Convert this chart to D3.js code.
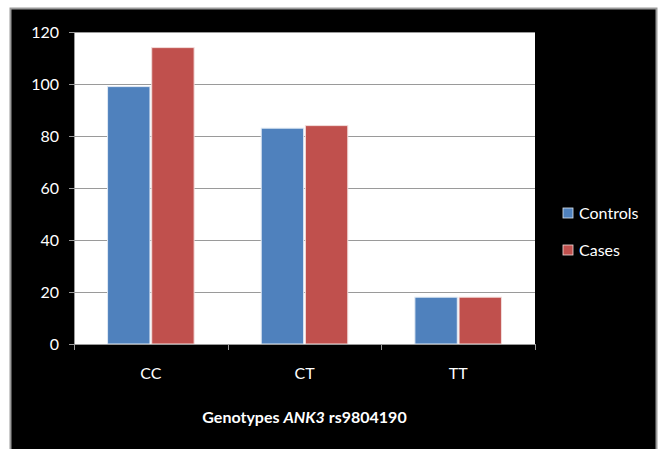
<!DOCTYPE html>
<html>
<head>
<meta charset="utf-8">
<script src="https://cdn.jsdelivr.net/npm/d3@7"></script>
<style>
  html, body { margin: 0; padding: 0; background: #ffffff; }
  svg { display: block; }
  text { font-family: Lato, "Open Sans", sans-serif; fill: #ffffff; }
</style>
</head>
<body>
<svg id="chart" width="665" height="449"></svg>
<script>
// Genotype counts for ANK3 rs9804190
const genotypes = ["CC", "CT", "TT"];
const seriesNames = ["Controls", "Cases"];
const controls = [99, 83, 18];
const cases = [114, 84, 18];
const yTicks = [0, 20, 40, 60, 80, 100, 120];
const seriesColors = ["#4f81bd", "#c0504d"];

const svg = d3.select("#chart");

// dark frame
svg.append("rect")
  .attr("x", 10.5).attr("y", 8.5)
  .attr("width", 646).attr("height", 445)
  .attr("fill", "#000").attr("stroke", "#9a9a9a").attr("stroke-width", 2);

const plot = { left: 74, right: 535, top: 32, bottom: 344 };

const x0 = d3.scaleBand()
  .domain(genotypes)
  .range([plot.left, plot.right])
  .paddingInner(0).paddingOuter(0);

const x1 = d3.scaleBand()
  .domain(seriesNames)
  .range([0, x0.bandwidth()])
  .paddingInner(0.04)
  .paddingOuter(0.76);

const y = d3.scaleLinear().domain([0, 120]).range([plot.bottom, plot.top]);

// plot background
svg.append("rect")
  .attr("x", plot.left).attr("y", plot.top)
  .attr("width", plot.right - plot.left).attr("height", plot.bottom - plot.top)
  .attr("fill", "#fff");

// horizontal gridlines
svg.append("g")
  .selectAll("line")
  .data(yTicks.filter(d => d > 0))
  .join("line")
  .attr("x1", plot.left).attr("x2", plot.right)
  .attr("y1", d => Math.round(y(d)) + 0.5).attr("y2", d => Math.round(y(d)) + 0.5)
  .attr("stroke", "#9a9a9a").attr("stroke-width", 1);

// bars
const rows = genotypes.map((g, i) => ({ g, vals: [controls[i], cases[i]] }));
svg.append("g")
  .selectAll("g")
  .data(rows)
  .join("g")
  .attr("transform", d => `translate(${x0(d.g)},0)`)
  .selectAll("rect")
  .data(d => d.vals.map((v, j) => ({ name: seriesNames[j], v, j })))
  .join("rect")
  .attr("x", d => x1(d.name))
  .attr("y", d => y(d.v))
  .attr("width", x1.bandwidth())
  .attr("height", d => y(0) - y(d.v))
  .attr("fill", d => seriesColors[d.j])
  .attr("stroke", d => d.j === 0 ? "#dfe8f3" : "#f2dcdb")
  .attr("stroke-width", 1);

// y axis
const yAxis = svg.append("g")
  .attr("transform", `translate(${plot.left},0)`)
  .call(d3.axisLeft(y).tickValues(yTicks).tickSize(5).tickPadding(10));
yAxis.select(".domain").attr("stroke", "#9a9a9a");
yAxis.selectAll(".tick line").attr("stroke", "#9a9a9a");
yAxis.selectAll(".tick text")
  .attr("fill", "#fff").attr("font-size", 16)
  .attr("font-family", "Lato, 'Open Sans', sans-serif");

// x axis: tick marks at category boundaries
const xAxis = svg.append("g")
  .attr("transform", `translate(0,${plot.bottom})`)
  .call(d3.axisBottom(x0).tickSize(0).tickPadding(24));
xAxis.select(".domain").attr("stroke", "#9a9a9a");
xAxis.selectAll(".tick text")
  .attr("fill", "#fff").attr("font-size", 16)
  .attr("font-family", "Lato, 'Open Sans', sans-serif");
const bounds = genotypes.map(g => x0(g)).concat([x0(genotypes[genotypes.length - 1]) + x0.bandwidth()]);
xAxis.append("g")
  .selectAll("line")
  .data(bounds)
  .join("line")
  .attr("x1", d => Math.round(d) + 0.5).attr("x2", d => Math.round(d) + 0.5)
  .attr("y1", 0).attr("y2", 6)
  .attr("stroke", "#9a9a9a");

// axis title
const title = svg.append("text")
  .attr("x", (plot.left + plot.right) / 2)
  .attr("y", 423)
  .attr("text-anchor", "middle")
  .attr("font-size", 16)
  .attr("font-weight", "bold");
title.append("tspan").text("Genotypes ");
title.append("tspan").attr("font-style", "italic").text("ANK3");
title.append("tspan").text(" rs9804190");

// legend
const legend = svg.append("g")
  .selectAll("g")
  .data(seriesNames)
  .join("g")
  .attr("transform", (d, i) => `translate(563,${208 + i * 37})`);
legend.append("rect")
  .attr("width", 10).attr("height", 10)
  .attr("fill", (d, i) => seriesColors[i])
  .attr("stroke", (d, i) => i === 0 ? "#dfe8f3" : "#f2dcdb")
  .attr("stroke-width", 0.8);
legend.append("text")
  .attr("x", 16).attr("y", 5)
  .attr("dy", "0.35em")
  .attr("font-size", 16)
  .text(d => d);
</script>
</body>
</html>
